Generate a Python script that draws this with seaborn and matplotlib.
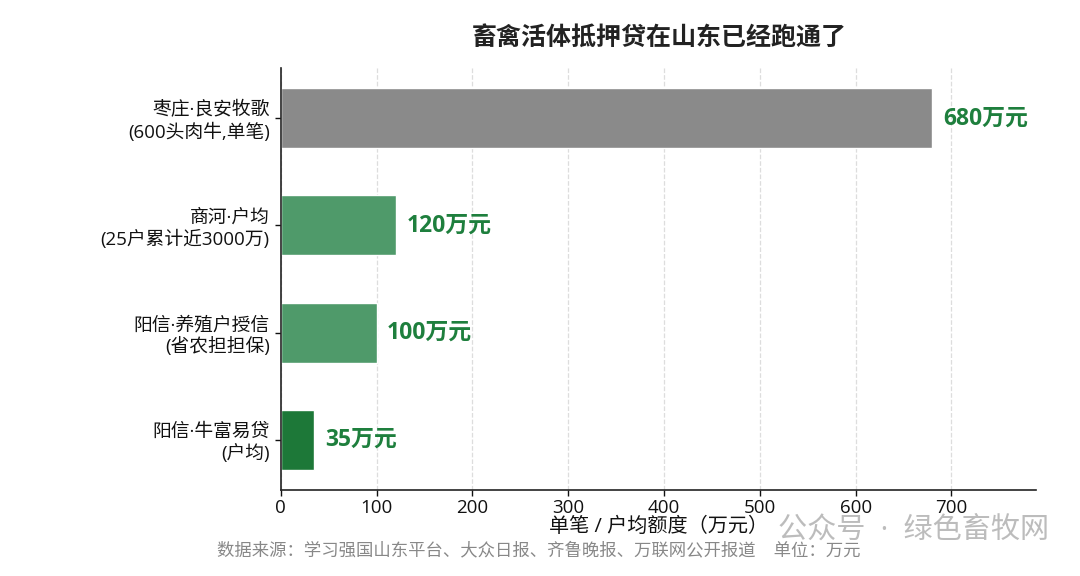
import matplotlib
matplotlib.use("Agg")
import matplotlib.pyplot as plt
import seaborn as sns
import pandas as pd

labels = ["枣庄·良安牧歌\n(600头肉牛,单笔)", "商河·户均\n(25户累计近3000万)",
          "阳信·养殖户授信\n(省农担担保)", "阳信·牛富易贷\n(户均)"]
values = [680, 120, 100, 35]
value_text = ["680万元", "120万元", "100万元", "35万元"]
colors = ["#8a8a8a", "#4f9a6a", "#4f9a6a", "#1d7838"]
xticks = [0, 100, 200, 300, 400, 500, 600, 700]

sns.set_theme(style="white")
plt.rcParams["font.family"] = ["Open Sans", "Noto Sans CJK SC", "DejaVu Sans"]
plt.rcParams["axes.unicode_minus"] = False

df = pd.DataFrame({"label": labels, "value": values})
fig = plt.figure(figsize=(10.8, 5.76), dpi=100)
ax = fig.add_axes([0.260, 0.149, 0.699, 0.733])
sns.barplot(data=df, x="value", y="label", hue="label", palette=colors,
            orient="h", width=0.56, legend=False, ax=ax, saturation=1)

for i, (v, t) in enumerate(zip(values, value_text)):
    ax.text(v + 11, i, t, va="center", ha="left", fontsize=16.5,
            fontweight="bold", color="#1e7f3d")

ax.set_xlim(0, 788)
ax.set_ylim(3.47, -0.47)
ax.set_xticks(xticks)
ax.tick_params(axis="x", labelsize=13.5, colors="#111111", length=4, width=1,
               bottom=True, pad=2)
ax.tick_params(axis="y", labelsize=13.5, colors="#111111", length=4, width=1,
               left=True, pad=4)
ax.grid(axis="x", linestyle="--", color="#dddddd", linewidth=0.9)
ax.set_axisbelow(True)
for s in ["top", "right"]:
    ax.spines[s].set_visible(False)
for s in ["left", "bottom"]:
    ax.spines[s].set_color("#222222")
    ax.spines[s].set_linewidth(1.2)
ax.set_ylabel("")
ax.set_xlabel("单笔 / 户均额度（万元）", fontsize=14.5, color="#111111", labelpad=0)

fig.text(0.610, 0.934, "畜禽活体抵押贷在山东已经跑通了", ha="center", va="center",
         fontsize=18, fontweight="bold", color="#222222")
fig.text(0.499, 0.043, "数据来源：学习强国山东平台、大众日报、齐鲁晚报、万联网公开报道    单位：万元",
         ha="center", va="center", fontsize=12.5, color="#888888")
fig.text(0.720, 0.077, "公众号  ·  绿色畜牧网", ha="left", va="center",
         fontsize=21, color="#b5b5b5", alpha=0.9)

fig.savefig("out.png", dpi=100, facecolor="white")
